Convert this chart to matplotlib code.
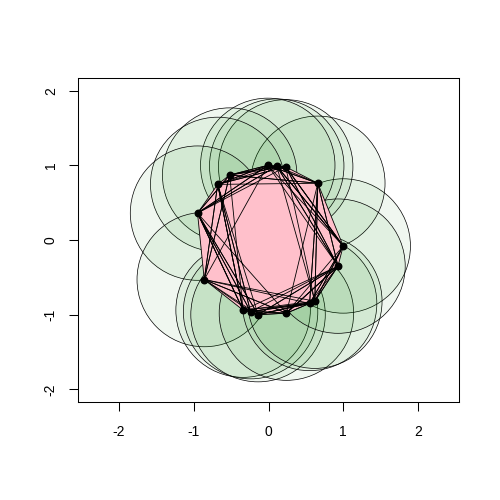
import matplotlib
matplotlib.use("Agg")
import matplotlib.pyplot as plt
from matplotlib.patches import Circle, Polygon

plt.rcParams['font.family'] = ['Liberation Sans', 'DejaVu Sans']

# points, listed counterclockwise starting from the right
px = [1.00, 0.66, 0.23, 0.11, -0.01, -0.52, -0.68, -0.95,
      -0.86, -0.34, -0.24, -0.14, 0.24, 0.55, 0.62, 0.93]
py = [-0.08, 0.76, 0.98, 0.99, 1.00, 0.87, 0.745, 0.36,
      -0.53, -0.94, -0.96, -1.00, -0.98, -0.85, -0.82, -0.35]
radius = 0.9

# polygon traversals drawn on top (point indices)
paths = [
    [0, 1, 2, 3, 4, 5, 6, 7, 8, 9, 10, 11, 12, 13, 14, 15, 0],
    [0, 2, 4, 6, 8, 10, 12, 14, 0],
    [1, 3, 5, 7, 9, 11, 13, 15, 1],
    [0, 3, 6, 9, 12, 15, 2, 5, 8, 11, 14, 1, 4, 7, 10, 13, 0],
    [0, 4, 8, 12, 0],
    [1, 5, 9, 13, 1],
    [2, 6, 10, 14, 2],
    [3, 7, 11, 15, 3],
    [6, 10, 7, 11, 6, 9, 7, 12, 8, 13],
    [4, 15, 3, 0, 2, 15, 1, 13, 0, 14, 15, 12],
    [5, 1, 6, 2, 7, 3, 5, 4, 1],
    [8, 14, 9, 15, 10, 13, 11, 12],
    [7, 9, 6, 8, 5, 7, 4, 6],
    [2, 0, 3, 14, 1, 12, 15, 11],
]

ticks = [-2, -1, 0, 1, 2]
tick_labels = ['-2', '-1', '0', '1', '2']

fig = plt.figure(figsize=(5, 5), dpi=100)
ax = fig.add_axes([0.156, 0.196, 0.762, 0.648])

for x, y in zip(px, py):
    ax.add_patch(Circle((x, y), radius, facecolor=(0, 0.5, 0, 0.058),
                        edgecolor='black', lw=0.5, zorder=1))

ax.add_patch(Polygon(list(zip(px, py)), closed=True, facecolor='#FFC0CB',
                     edgecolor='none', zorder=2))

for path in paths:
    ax.plot([px[i] for i in path], [py[i] for i in path],
            color='black', lw=0.6, zorder=3)

ax.scatter(px, py, s=22, color='black', zorder=4)

ax.set_xlim(-2.55, 2.55)
ax.set_ylim(-2.17, 2.17)
ax.set_xticks(ticks)
ax.set_xticklabels(tick_labels)
ax.set_yticks(ticks)
ax.set_yticklabels(tick_labels, rotation=90, va='center')
ax.tick_params(length=6.5, width=0.75, labelsize=10)
ax.tick_params(axis='x', pad=10)
ax.tick_params(axis='y', pad=8)
for s in ax.spines.values():
    s.set_linewidth(0.75)

fig.savefig('out.png', dpi=100, facecolor='white')
